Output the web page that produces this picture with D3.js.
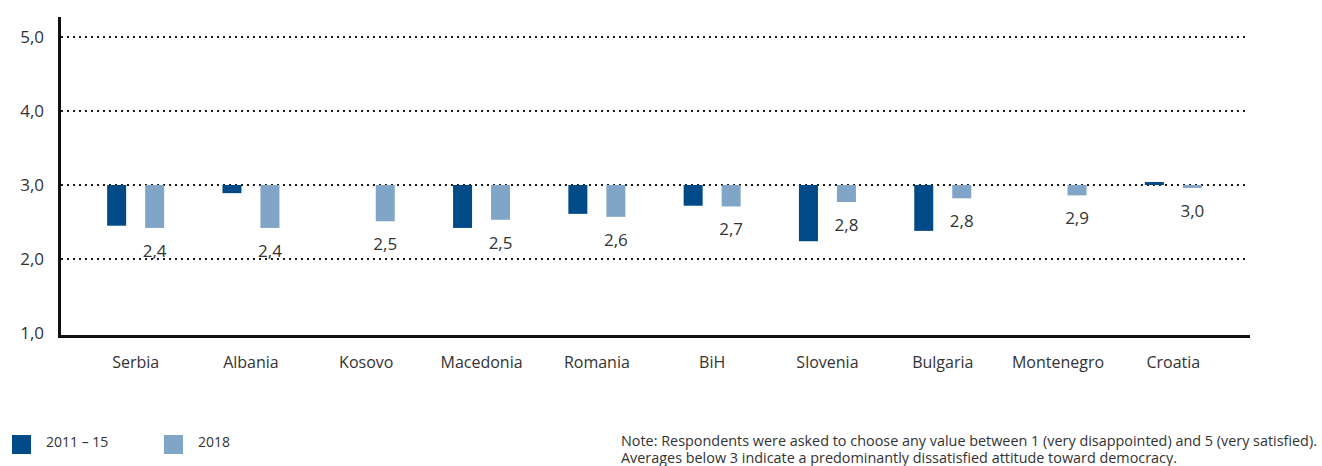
<!DOCTYPE html>
<html>
<head>
<meta charset="utf-8">
<script src="https://cdn.jsdelivr.net/npm/d3@7"></script>
<style>
  html, body { margin: 0; padding: 0; background: #fff; }
  svg { display: block; font-family: "Open Sans", "Noto Sans", sans-serif; }
</style>
</head>
<body>
<svg id="chart" width="1322" height="466"></svg>
<script>
// Satisfaction with democracy, mean scores (1 = very disappointed, 5 = very satisfied)
const countries = ["Serbia", "Albania", "Kosovo", "Macedonia", "Romania", "BiH", "Slovenia", "Bulgaria", "Montenegro", "Croatia"];
const seriesNames = ["2011 – 15", "2018"];
const values2011_15 = [2.45, 2.89, null, 2.42, 2.61, 2.72, 2.24, 2.38, null, 3.04];
const values2018 = [2.42, 2.42, 2.51, 2.53, 2.57, 2.71, 2.77, 2.82, 2.86, 2.96];
const yTicks = [1, 2, 3, 4, 5];
const baselineValue = 3;
const colors = ["#004a87", "#81a5c6"];
const noteLines = [
  "Note: Respondents were asked to choose any value between 1 (very disappointed) and 5 (very satisfied).",
  "Averages below 3 indicate a predominantly dissatisfied attitude toward democracy."
];

const svg = d3.select("#chart");
const fmt = v => d3.format(".1f")(v).replace(".", ",");

const y = d3.scaleLinear().domain([1, 5]).range([333, 37]);
const x0 = d3.scaleBand().domain(countries).range([78, 1231]).paddingInner(0).paddingOuter(0);
const x1 = d3.scaleBand().domain(seriesNames).range([-28.5, 28.5]).paddingInner(0.5).paddingOuter(0);

// dotted horizontal gridlines
svg.append("g")
  .selectAll("line")
  .data(yTicks.filter(t => t > 1))
  .join("line")
  .attr("x1", 61).attr("x2", 1248)
  .attr("y1", d => y(d)).attr("y2", d => y(d))
  .attr("stroke", "#1a1a1a")
  .attr("stroke-width", 2)
  .attr("stroke-dasharray", "2,4");

// y axis tick labels
const yAxis = d3.axisLeft(y).tickValues(yTicks).tickFormat(fmt).tickSize(0).tickPadding(0);
const gy = svg.append("g").attr("transform", "translate(44,0)").call(yAxis);
gy.select(".domain").remove();
gy.selectAll("text")
  .attr("font-size", 17)
  .attr("fill", "#333")
  .attr("font-family", "'Open Sans', sans-serif");

// bars, hanging from / rising above the midpoint 3,0
const rows = countries.map((c, i) => ({ country: c, vals: [values2011_15[i], values2018[i]] }));
const groups = svg.append("g").selectAll("g")
  .data(rows)
  .join("g")
  .attr("transform", d => `translate(${x0(d.country) + x0.bandwidth() / 2},0)`);

groups.selectAll("rect")
  .data(d => d.vals.map((v, j) => ({ v, s: seriesNames[j], j })).filter(e => e.v != null))
  .join("rect")
  .attr("x", e => x1(e.s))
  .attr("width", x1.bandwidth())
  .attr("y", e => Math.min(y(e.v), y(baselineValue)))
  .attr("height", e => Math.abs(y(e.v) - y(baselineValue)))
  .attr("fill", e => colors[e.j]);

// value labels under the 2018 bars
groups.append("text")
  .attr("x", x1(seriesNames[1]) + x1.bandwidth() / 2)
  .attr("y", d => y(d.vals[1]) + 29)
  .attr("text-anchor", "middle")
  .attr("font-size", 17)
  .attr("fill", "#333")
  .text(d => fmt(d.vals[1]));

// axis lines
svg.append("line").attr("x1", 59.5).attr("x2", 59.5).attr("y1", 17).attr("y2", 338)
  .attr("stroke", "#111").attr("stroke-width", 3);
svg.append("line").attr("x1", 58).attr("x2", 1250).attr("y1", 336.5).attr("y2", 336.5)
  .attr("stroke", "#111").attr("stroke-width", 3);

// category labels
const xAxis = d3.axisBottom(x0).tickSize(0).tickPadding(0);
const gx = svg.append("g").attr("transform", "translate(0,357)").call(xAxis);
gx.select(".domain").remove();
gx.selectAll("text")
  .attr("dy", "0.71em")
  .attr("font-size", 16)
  .attr("fill", "#333")
  .attr("font-family", "'Open Sans', sans-serif");

// legend
const legendX = [12, 164];
const leg = svg.append("g").selectAll("g")
  .data(seriesNames)
  .join("g")
  .attr("transform", (d, i) => `translate(${legendX[i]},435)`);
leg.append("rect").attr("width", 19).attr("height", 19).attr("fill", (d, i) => colors[i]);
leg.append("text").attr("x", 34).attr("y", 12).attr("font-size", 14).attr("fill", "#333").text(d => d);

// note
svg.append("g").selectAll("text")
  .data(noteLines)
  .join("text")
  .attr("x", 621)
  .attr("y", (d, i) => 446 + i * 17)
  .attr("font-size", 14.4)
  .attr("fill", "#333")
  .text(d => d);
</script>
</body>
</html>
